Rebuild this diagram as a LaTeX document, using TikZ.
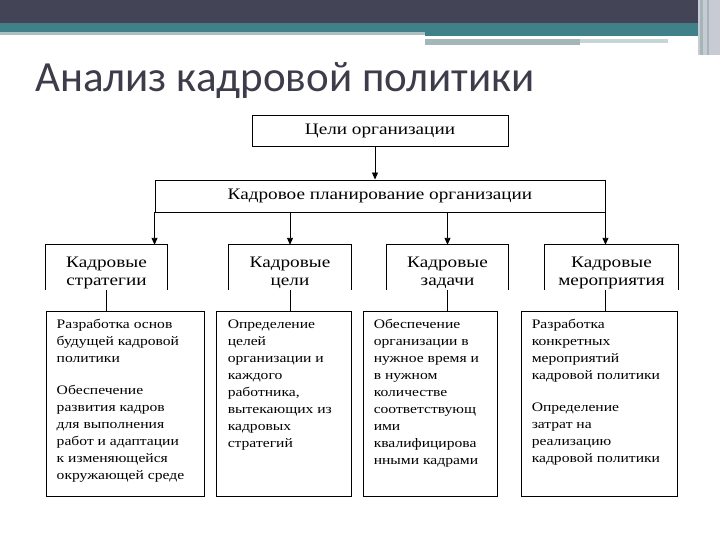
\documentclass[tikz,border=0pt]{standalone}
\usepackage{fontspec}
\setmainfont{Liberation Serif}[FakeStretch=1.2]
\newfontfamily\titlefont{Carlito}
\usepackage{xcolor}
\usetikzlibrary{arrows.meta, positioning}
\definecolor{slate}{RGB}{67,69,86}
\definecolor{teal}{RGB}{64,128,136}
\definecolor{paleteal}{RGB}{170,192,194}
\definecolor{bandgray}{RGB}{164,182,184}
\definecolor{bandlight}{RGB}{198,214,214}
\definecolor{edgegray}{RGB}{200,202,212}
\definecolor{titlegray}{RGB}{60,60,74}
\newcommand{\catlead}{\rule{0pt}{21bp}}
\newcommand{\devlead}{\rule{0pt}{11bp}}

\begin{document}
\begin{tikzpicture}[x=1bp, y=-1bp,
    head/.style={inner sep=0pt, font=\fontsize{16bp}{18bp}\selectfont, align=center},
    box/.style={head, draw, line width=0.9bp},
    cat/.style={head, minimum height=45bp},
    dev/.style={draw, line width=0.9bp, inner sep=0pt, minimum height=185bp},
    dtext/.style={inner sep=0pt, align=left, font=\fontsize{13bp}{17bp}\selectfont},
    link/.style={line width=0.9bp},
    arr/.style={link, -{Triangle[length=7bp, width=6bp]}}
]
\useasboundingbox (0,0) rectangle (720,540);
\fill[white] (0,0) rectangle (720,540);

% top banner
\fill[slate] (0,0) rectangle (698,23);
\fill[teal] (0,23) rectangle (698,32);
\fill[teal] (425,32) rectangle (698,36);
\fill[paleteal] (0,32) rectangle (425,35.5);
\fill[bandgray] (425,39) rectangle (580,45);
\fill[bandlight] (580,39) rectangle (668,43);
\fill[edgegray] (698,0) rectangle (720,55);
\fill[bandgray] (700,0) rectangle (703,55);
\fill[bandgray] (707,0) rectangle (709,55);

\node[anchor=base west, inner sep=0pt, text=titlegray,
      font=\titlefont\fontsize{43bp}{48bp}\selectfont] (title) at (35,92)
      {Анализ кадровой политики};

% hierarchy
\node[box, minimum width=256bp, minimum height=31bp] (goals) at (380,131) {Цели организации};
\node[box, minimum width=450bp, minimum height=32bp] (plan)  at (380,196) {Кадровое планирование организации};

\node[cat, minimum width=121bp] (cat1) at (106.5,267.5) {\catlead Кадровые\\стратегии};
\node[cat, minimum width=122bp] (cat2) at (290,267.5)   {\catlead Кадровые\\цели};
\node[cat, minimum width=121bp] (cat3) at (447.5,267.5) {\catlead Кадровые\\задачи};
\node[cat, minimum width=133bp] (cat4) at (611.5,267.5) {\catlead Кадровые\\мероприятия};
\foreach \c in {cat1,cat2,cat3,cat4}
    \draw[link] (\c.south west) -- (\c.north west) -- (\c.north east) -- (\c.south east);

\node[dev, minimum width=158bp] (devA) at (125,403.5) {};
\node[dev, minimum width=135bp] (devB) at (283.5,403.5) {};
\node[dev, minimum width=134bp] (devC) at (430,403.5) {};
\node[dev, minimum width=156bp] (devD) at (599,403.5) {};

\node[dtext, below right=7bp and 11bp of devA.north west]
    {\devlead Разработка основ\\будущей кадровой\\политики\\[15bp]Обеспечение\\развития кадров\\для выполнения\\работ и адаптации\\к изменяющейся\\окружающей среде};
\node[dtext, below right=7bp and 12bp of devB.north west]
    {\devlead Определение\\целей\\организации и\\каждого\\работника,\\вытекающих из\\кадровых\\стратегий};
\node[dtext, below right=7bp and 11bp of devC.north west]
    {\devlead Обеспечение\\организации в\\нужное время и\\в нужном\\количестве\\соответствующ\\ими\\квалифицирова\\нными кадрами};
\node[dtext, below right=7bp and 11bp of devD.north west]
    {\devlead Разработка\\конкретных\\мероприятий\\кадровой политики\\[15bp]Определение\\затрат на\\реализацию\\кадровой политики};

% connectors
\draw[arr] ([xshift=-5bp]goals.south) -- ([xshift=-5bp]goals.south |- plan.north);
\draw[arr] (plan.south west) -- (plan.south west |- cat1.north);
\draw[arr] (cat2.north |- plan.south) -- (cat2.north);
\draw[arr] (cat3.north |- plan.south) -- (cat3.north);
\draw[arr] (plan.south east) -- (plan.south east |- cat4.north);

\draw[link] (cat1.south) -- (cat1.south |- devA.north);
\draw[link] (cat2.south) -- (cat2.south |- devB.north);
\draw[link] (cat3.south) -- (cat3.south |- devC.north);
\draw[link] (plan.south east |- cat4.south) -- (plan.south east |- devD.north);
\end{tikzpicture}
\end{document}
